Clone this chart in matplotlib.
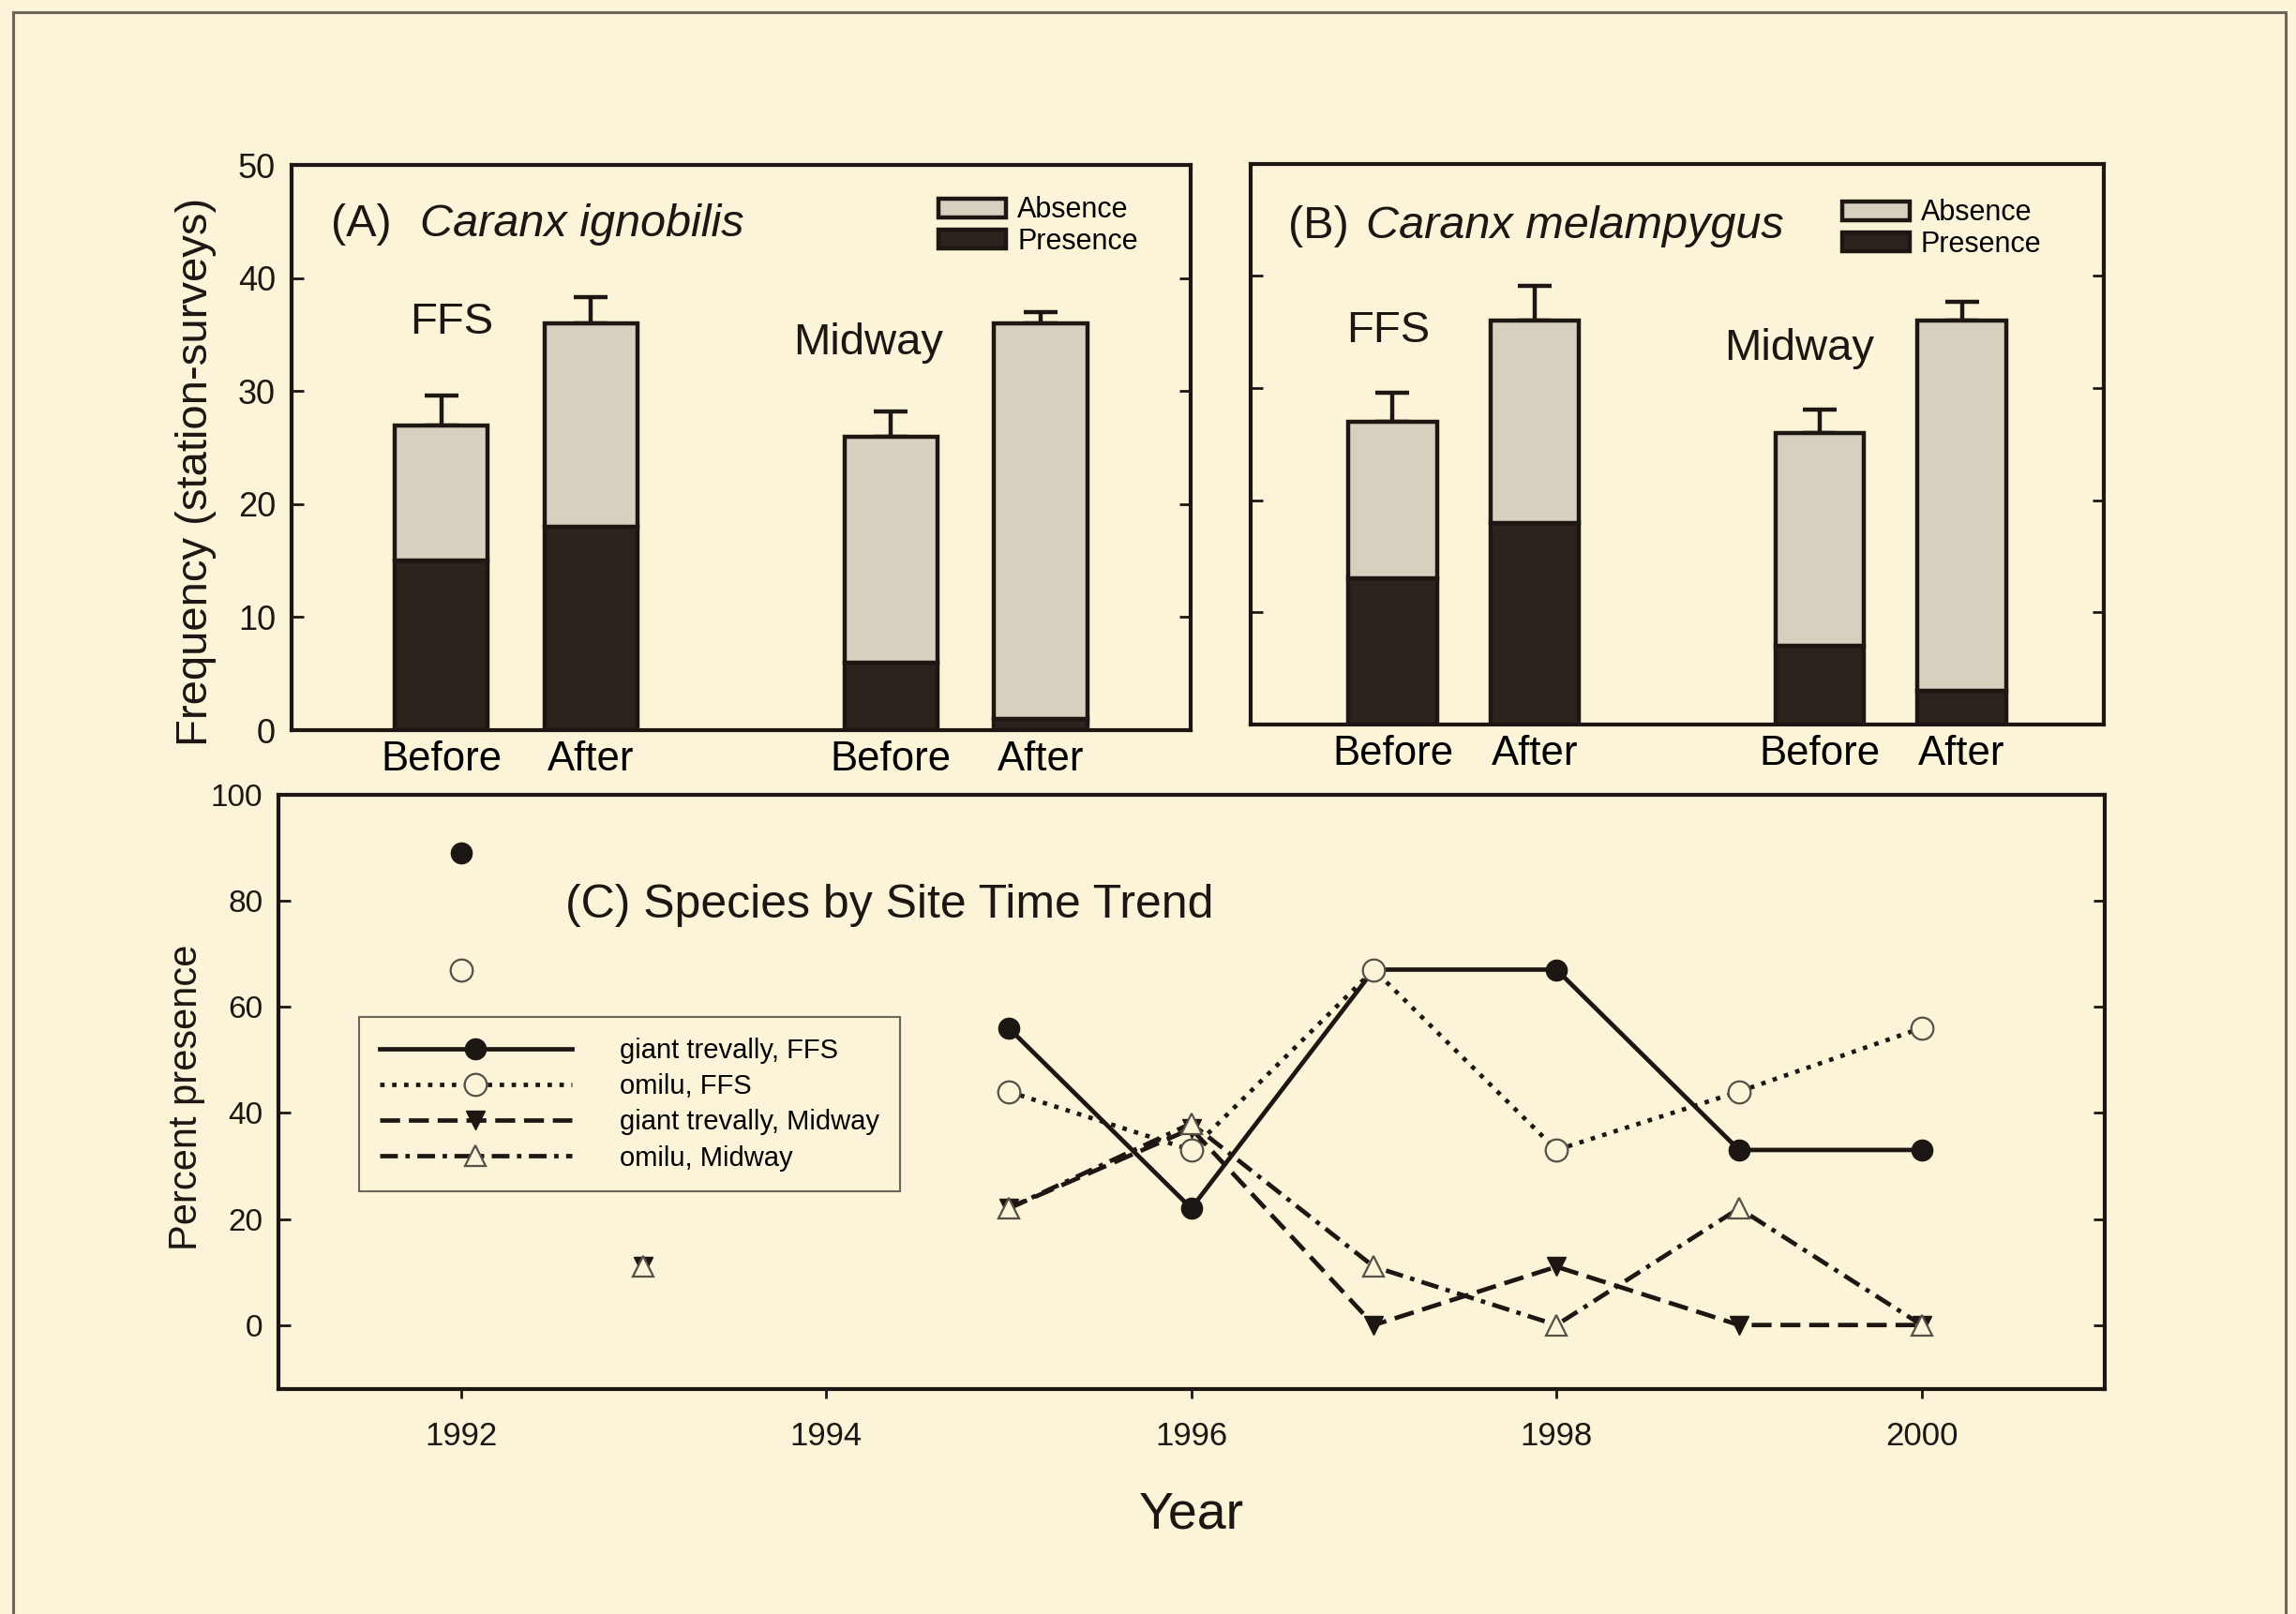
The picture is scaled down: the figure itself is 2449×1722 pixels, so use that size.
import numpy as np
import matplotlib
matplotlib.use("Agg")
import matplotlib.pyplot as plt
from matplotlib.patches import Rectangle

plt.rcParams['font.family'] = ['Liberation Sans', 'DejaVu Sans']

# panel A / B : stacked bars (station-surveys)
bar_labels = ['Before', 'After', 'Before', 'After']
bar_x = [1, 2, 4, 5]

a_total = [27, 36, 26, 36]
a_presence = [15, 18, 6, 1]
a_err = [2.6, 2.3, 2.2, 1.0]

b_total = [27, 36, 26, 36]
b_presence = [13, 18, 7, 3]
b_err = [2.6, 3.1, 2.1, 1.7]

# panel C : percent presence by year
years = [1992, 1993, 1994, 1995, 1996, 1997, 1998, 1999, 2000]
gt_ffs = [89, np.nan, np.nan, 56, 22, 67, 67, 33, 33]
om_ffs = [67, np.nan, np.nan, 44, 33, 67, 33, 44, 56]
gt_mid = [np.nan, 11, np.nan, 22, 37, 0, 11, 0, 0]
om_mid = [np.nan, 11, np.nan, 22, 38, 11, 0, 22, 0]

bg = '#FBF4D8'
ink = '#1c1712'
light = '#D6D0BF'
dark = '#2B231C'

fig = plt.figure(figsize=(24.49, 17.22), dpi=100)
fig.patch.set_facecolor(bg)

# thin frame around the whole page
fig.add_artist(Rectangle((0.0057, -0.02), 0.9898, 1.0125, transform=fig.transFigure,
                         fill=False, edgecolor='#6b665a', linewidth=2.2))

axA = fig.add_axes([0.1269, 0.5476, 0.3916, 0.3500])
axB = fig.add_axes([0.5446, 0.5512, 0.3718, 0.3473])
axC = fig.add_axes([0.1212, 0.1396, 0.7953, 0.3681])

def bar_panel(ax, total, presence, err, site_pos, leg_anchor):
    absence = [t - p for t, p in zip(total, presence)]
    ax.set_facecolor(bg)
    ax.bar(bar_x, presence, width=0.62, color=dark, edgecolor=ink, linewidth=3.2,
           label='Presence', zorder=2)
    ax.bar(bar_x, absence, bottom=presence, width=0.62, color=light, edgecolor=ink,
           linewidth=3.2, label='Absence', zorder=2)
    ax.errorbar(bar_x, total, yerr=[[0] * 4, err], fmt='none', ecolor=ink,
                elinewidth=3.2, capsize=13, capthick=3.2, zorder=1)
    ax.set_xlim(0, 6)
    ax.set_ylim(0, 50)
    ax.set_xticks(bar_x)
    ax.set_xticklabels(bar_labels, fontsize=31.5)
    ax.tick_params(axis='x', length=0, pad=8)
    ax.tick_params(axis='y', direction='in', length=9, width=2, right=True, pad=12,
                   labelsize=26, colors=ink)
    ax.set_yticks([0, 10, 20, 30, 40, 50])
    for s in ax.spines.values():
        s.set_linewidth(3)
        s.set_color(ink)
    for (x, y), name in zip(site_pos, ['FFS', 'Midway']):
        ax.text(x, y, name, fontsize=34, ha='center', va='center', color=ink)
    h, l = ax.get_legend_handles_labels()
    ax.legend(h[::-1], l[::-1], loc='upper left', bbox_to_anchor=leg_anchor,
              frameon=False, fontsize=22, handlelength=2.35, handleheight=0.62,
              handletextpad=0.4, labelspacing=0.1, borderpad=0, borderaxespad=0)

bar_panel(axA, a_total, a_presence, a_err, [(1.07, 36.1), (3.85, 34.3)], (0.72, 0.945))
bar_panel(axB, b_total, b_presence, b_err, [(0.97, 35.1), (3.86, 33.5)], (0.693, 0.937))
axB.set_yticklabels([])

axA.text(0.044, 0.896, '(A)', transform=axA.transAxes, fontsize=35, va='center', color=ink)
axA.text(0.143, 0.896, 'Caranx ignobilis', transform=axA.transAxes, fontsize=35,
         style='italic', va='center', color=ink)
axB.text(0.0446, 0.888, '(B)', transform=axB.transAxes, fontsize=35, va='center', color=ink)
axB.text(0.1355, 0.888, 'Caranx melampygus', transform=axB.transAxes, fontsize=35,
         style='italic', va='center', color=ink)

axA.set_ylabel('Frequency (station-surveys)', fontsize=34, color=ink)
axA.yaxis.set_label_coords(-0.083, 0.458)

# panel C
axC.set_facecolor(bg)
axC.plot(years, gt_ffs, '-', color=ink, lw=3.4, marker='o', ms=16, mfc=ink, mec=ink,
         label='giant trevally, FFS')
axC.plot(years, om_ffs, linestyle=(0, (1, 1.7)), color=ink, lw=3.4, marker='o', ms=17,
         mfc=bg, mec='#555048', mew=1.6, label='omilu, FFS')
axC.plot(years, gt_mid, linestyle=(0, (4.5, 2)), color=ink, lw=3.4, marker='v', ms=14,
         mfc=ink, mec=ink, label='giant trevally, Midway')
axC.plot(years, om_mid, linestyle=(0, (4, 1.7, 1, 1.7)), color=ink, lw=3.4, marker='^',
         ms=16, mfc=bg, mec='#555048', mew=1.6, label='omilu, Midway')

axC.set_xlim(1991, 2001)
axC.set_ylim(-12, 100)
axC.set_xticks([1992, 1994, 1996, 1998, 2000])
axC.set_yticks([0, 20, 40, 60, 80, 100])
axC.tick_params(axis='x', direction='out', length=7, width=2, pad=18, labelsize=25,
                colors=ink)
axC.tick_params(axis='y', direction='in', length=9, width=2, right=True, pad=12,
                labelsize=24, colors=ink)
for s in axC.spines.values():
    s.set_linewidth(3)
    s.set_color(ink)
axC.text(0.157, 0.813, '(C) Species by Site Time Trend', transform=axC.transAxes,
         fontsize=36, va='center', color=ink)
axC.set_xlabel('Year', fontsize=40, labelpad=30, color=ink)
axC.set_ylabel('Percent presence', fontsize=30, color=ink)
axC.yaxis.set_label_coords(-0.040, 0.49)

leg = axC.legend(loc='upper left', bbox_to_anchor=(0.0441, 0.6256), fontsize=21,
                 handlelength=7.05, handletextpad=1.75, labelspacing=0.35, borderpad=0.75,
                 borderaxespad=0, numpoints=1, fancybox=False, facecolor=bg,
                 edgecolor='#6b665a', framealpha=1)
leg.get_frame().set_linewidth(1.5)

fig.savefig('out.png', dpi=100, facecolor=bg)
